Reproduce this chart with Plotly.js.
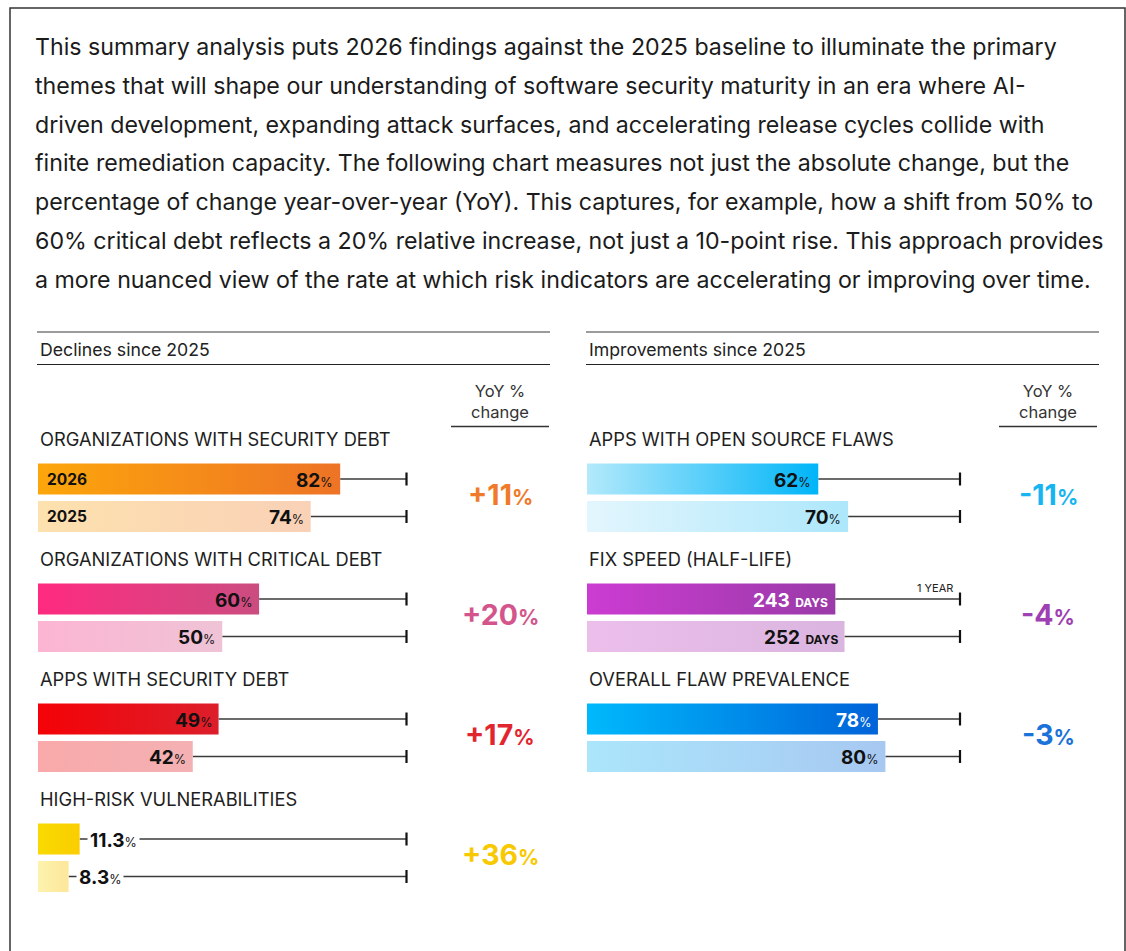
<!DOCTYPE html>
<html>
<head>
<meta charset="utf-8">
<script src="https://cdn.plot.ly/plotly-3.0.1.min.js"></script>
<style>html,body{margin:0;padding:0;background:#fff;}#chart{width:1126px;height:951px;}</style>
</head>
<body>
<div id="chart"></div>
<script>
// ---------------- DATA ----------------
const introLines = [
  "This summary analysis puts 2026 findings against the 2025 baseline to illuminate the primary",
  "themes that will shape our understanding of software security maturity in an era where AI-",
  "driven development, expanding attack surfaces, and accelerating release cycles collide with",
  "finite remediation capacity. The following chart measures not just the absolute change, but the",
  "percentage of change year-over-year (YoY). This captures, for example, how a shift from 50% to",
  "60% critical debt reflects a 20% relative increase, not just a 10-point rise. This approach provides",
  "a more nuanced view of the rate at which risk indicators are accelerating or improving over time."
];
const panelTitles = ["Declines since 2025", "Improvements since 2025"];
const yoyHeader = "YoY %<br>change";
const yearLabels = ["2026", "2025"];

const leftCategories = ["ORGANIZATIONS WITH SECURITY DEBT", "ORGANIZATIONS WITH CRITICAL DEBT", "APPS WITH SECURITY DEBT", "HIGH-RISK VULNERABILITIES"];
const left2026 = [82, 60, 49, 11.3];
const left2025 = [74, 50, 42, 8.3];
const leftUnits = ["%", "%", "%", "%"];
const leftScaleMax = [100, 100, 100, 100];
const leftYoY = ["+11", "+20", "+17", "+36"];

const rightCategories = ["APPS WITH OPEN SOURCE FLAWS", "FIX SPEED (HALF-LIFE)", "OVERALL FLAW PREVALENCE"];
const right2026 = [62, 243, 78];
const right2025 = [70, 252, 80];
const rightUnits = ["%", "DAYS", "%"];
const rightScaleMax = [100, 365, 100];
const rightScaleLabel = ["", "1 YEAR", ""];
const rightYoY = ["-11", "-4", "-3"];

// ---------------- STYLES ----------------
const leftGrad2026 = [["#fca60b", "#ee7326"], ["#ff2a80", "#cb4d80"], ["#f40207", "#dc1f2b"], ["#f8da00", "#fbcd00"]];
const leftGrad2025 = [["#fde1ae", "#f9d1b7"], ["#fcb5d2", "#efc3d6"], ["#f9a9aa", "#f4b1b3"], ["#fdf2ad", "#fde79b"]];
const leftText2026 = ["#111", "#111", "#111", "#111"];
const leftYoYColor = ["#f07a2a", "#d3558b", "#e2262f", "#f8c900"];

const rightGrad2026 = [["#b3e9fb", "#00b5f8"], ["#cc3cd2", "#9a3aa8"], ["#00b9fc", "#0063d9"]];
const rightGrad2025 = [["#e3f6fd", "#ade7fb"], ["#ecbfeb", "#dab5df"], ["#abe6fb", "#a7c8f1"]];
const rightText2026 = ["#111", "#fff", "#fff"];
const rightYoYColor = ["#17b4f2", "#9e3fb3", "#1b72d8"];

const FONT = "Inter, 'Open Sans', Roboto, sans-serif";
const W = 1126, H = 951;
// geometry (pixels)
const LEFT0 = 38, LEFT_UNIT = 3.685;   // px per percentage point
const RIGHT0 = 587, RIGHT_UNIT = 3.73;
const GROUP0 = 439, GROUP_STEP = 120;
const BAR_OFF = [40, 77.5], BAR_HALF = 15.5;

const traces = [];
const shapes = [];
const annotations = [];

function px(x) { return x / W; }

// paragraph
introLines.forEach((t, i) => {
  annotations.push({xref: "paper", yref: "y", x: px(33), y: 47 + i * 38.8, xanchor: "left", yanchor: "middle",
    text: t, showarrow: false, font: {family: FONT, size: 23.2, color: "#1b1b1b"}});
});

// border
shapes.push({type: "rect", xref: "paper", yref: "y", x0: px(10), x1: px(1125), y0: 8, y1: 1000,
  line: {color: "#333", width: 1.5}, fillcolor: "rgba(0,0,0,0)"});

function panel(opts) {
  const {xa, x0, title, cats, v26, v25, units, scaleMax, yoy, g26, g25, txt26, yoyColor, scaleLabel, yoyX} = opts;
  const lineL = x0 - 1, lineR = x0 + 512;
  // header rules
  shapes.push({type: "line", xref: "paper", yref: "y", x0: px(lineL), x1: px(lineR), y0: 332, y1: 332, line: {color: "#7a7a7a", width: 1.6}});
  shapes.push({type: "line", xref: "paper", yref: "y", x0: px(lineL), x1: px(lineR), y0: 364.5, y1: 364.5, line: {color: "#222", width: 1.2}});
  annotations.push({xref: "paper", yref: "y", x: px(x0), y: 349, xanchor: "left", yanchor: "middle", text: title, showarrow: false,
    font: {family: FONT, size: 17.7, color: "#222"}});
  // YoY header
  annotations.push({xref: "paper", yref: "y", x: px(yoyX), y: 401, xanchor: "center", yanchor: "middle", text: yoyHeader, showarrow: false,
    font: {family: FONT, size: 16.5, color: "#333"}});
  shapes.push({type: "line", xref: "paper", yref: "y", x0: px(yoyX - 49), x1: px(yoyX + 49), y0: 426.5, y1: 426.5, line: {color: "#333", width: 1.3}});

  cats.forEach((cat, g) => {
    const gy = GROUP0 + g * GROUP_STEP;
    annotations.push({xref: "paper", yref: "y", x: px(x0), y: gy, xanchor: "left", yanchor: "middle", text: cat, showarrow: false,
      font: {family: FONT, size: 18.3, color: "#1e1e1e"}});
    const vals = [v26[g], v25[g]];
    vals.forEach((v, r) => {
      const xv = v / scaleMax[g] * 100;
      const yc = gy + BAR_OFF[r];
      const grad = r === 0 ? g26[g] : g25[g];
      traces.push({type: "scatter", mode: "lines", xaxis: xa, yaxis: "y",
        x: [0, xv, xv, 0, 0], y: [yc - BAR_HALF, yc - BAR_HALF, yc + BAR_HALF, yc + BAR_HALF, yc - BAR_HALF],
        fill: "toself", line: {width: 0, color: "rgba(0,0,0,0)"},
        fillgradient: {type: "horizontal", colorscale: [[0, grad[0]], [1, grad[1]]]},
        hoverinfo: "skip"});
      // leader line to scale end
      shapes.push({type: "line", xref: xa, yref: "y", x0: xv, x1: 100, y0: yc, y1: yc, line: {color: "#3a3a3a", width: 1.5}, layer: "below"});
      shapes.push({type: "line", xref: xa, yref: "y", x0: 100, x1: 100, y0: yc - 6.5, y1: yc + 6.5, line: {color: "#111", width: 2.2}});
      // value label
      const unitTxt = units[g] === "%" ? "<span style='font-size:12.5px'>%</span>" : " <span style='font-size:12px'><b>" + units[g] + "</b></span>";
      const label = "<b>" + v + "</b>" + unitTxt;
      const inside = xv > 15;
      const col = (r === 0 ? txt26[g] : "#111");
      if (inside) {
        annotations.push({xref: xa, yref: "y", x: xv, y: yc + 1, xanchor: "right", yanchor: "middle", xshift: -5,
          text: label, showarrow: false, font: {family: FONT, size: 19, color: col}});
      } else {
        annotations.push({xref: xa, yref: "y", x: xv, y: yc + 1, xanchor: "left", yanchor: "middle", xshift: 7,
          text: label, showarrow: false, bgcolor: "#fff", borderpad: 2, font: {family: FONT, size: 19, color: col}});
      }
      if (g === 0 && opts.yearTags) {
        annotations.push({xref: xa, yref: "y", x: 0, y: yc, xanchor: "left", yanchor: "middle", xshift: 7,
          text: "<b>" + yearLabels[r] + "</b>", showarrow: false, font: {family: FONT, size: 15.5, color: "#111"}});
      }
      if (r === 0 && scaleLabel && scaleLabel[g]) {
        annotations.push({xref: xa, yref: "y", x: 100, y: yc - 11, xanchor: "right", yanchor: "middle", xshift: -5,
          text: scaleLabel[g], showarrow: false, font: {family: FONT, size: 11, color: "#222"}});
      }
    });
    // YoY change
    annotations.push({xref: "paper", yref: "y", x: px(yoyX), y: gy + 55, xanchor: "center", yanchor: "middle",
      text: "<b>" + yoy[g] + "</b><span style='font-size:21px'><b>%</b></span>", showarrow: false,
      font: {family: FONT, size: 28.5, color: yoyColor[g]}});
  });
}

panel({xa: "x", x0: LEFT0, title: panelTitles[0], cats: leftCategories, v26: left2026, v25: left2025,
  units: leftUnits, scaleMax: leftScaleMax, yoy: leftYoY, g26: leftGrad2026, g25: leftGrad2025, txt26: leftText2026,
  yoyColor: leftYoYColor, yoyX: 500, yearTags: true});
panel({xa: "x2", x0: RIGHT0, title: panelTitles[1], cats: rightCategories, v26: right2026, v25: right2025,
  units: rightUnits, scaleMax: rightScaleMax, yoy: rightYoY, g26: rightGrad2026, g25: rightGrad2025, txt26: rightText2026,
  yoyColor: rightYoYColor, yoyX: 1048, scaleLabel: rightScaleLabel});

const layout = {
  width: W, height: H, margin: {l: 0, r: 0, t: 0, b: 0},
  paper_bgcolor: "#fff", plot_bgcolor: "#fff", showlegend: false,
  xaxis: {domain: [0, 1], range: [-LEFT0 / LEFT_UNIT, (W - LEFT0) / LEFT_UNIT], visible: false, fixedrange: true},
  xaxis2: {domain: [0, 1], overlaying: "x", range: [-RIGHT0 / RIGHT_UNIT, (W - RIGHT0) / RIGHT_UNIT], visible: false, fixedrange: true},
  yaxis: {domain: [0, 1], range: [H, 0], visible: false, fixedrange: true},
  shapes: shapes, annotations: annotations,
  font: {family: FONT}
};
Plotly.newPlot("chart", traces, layout, {displayModeBar: false, staticPlot: true});
</script>
</body>
</html>
